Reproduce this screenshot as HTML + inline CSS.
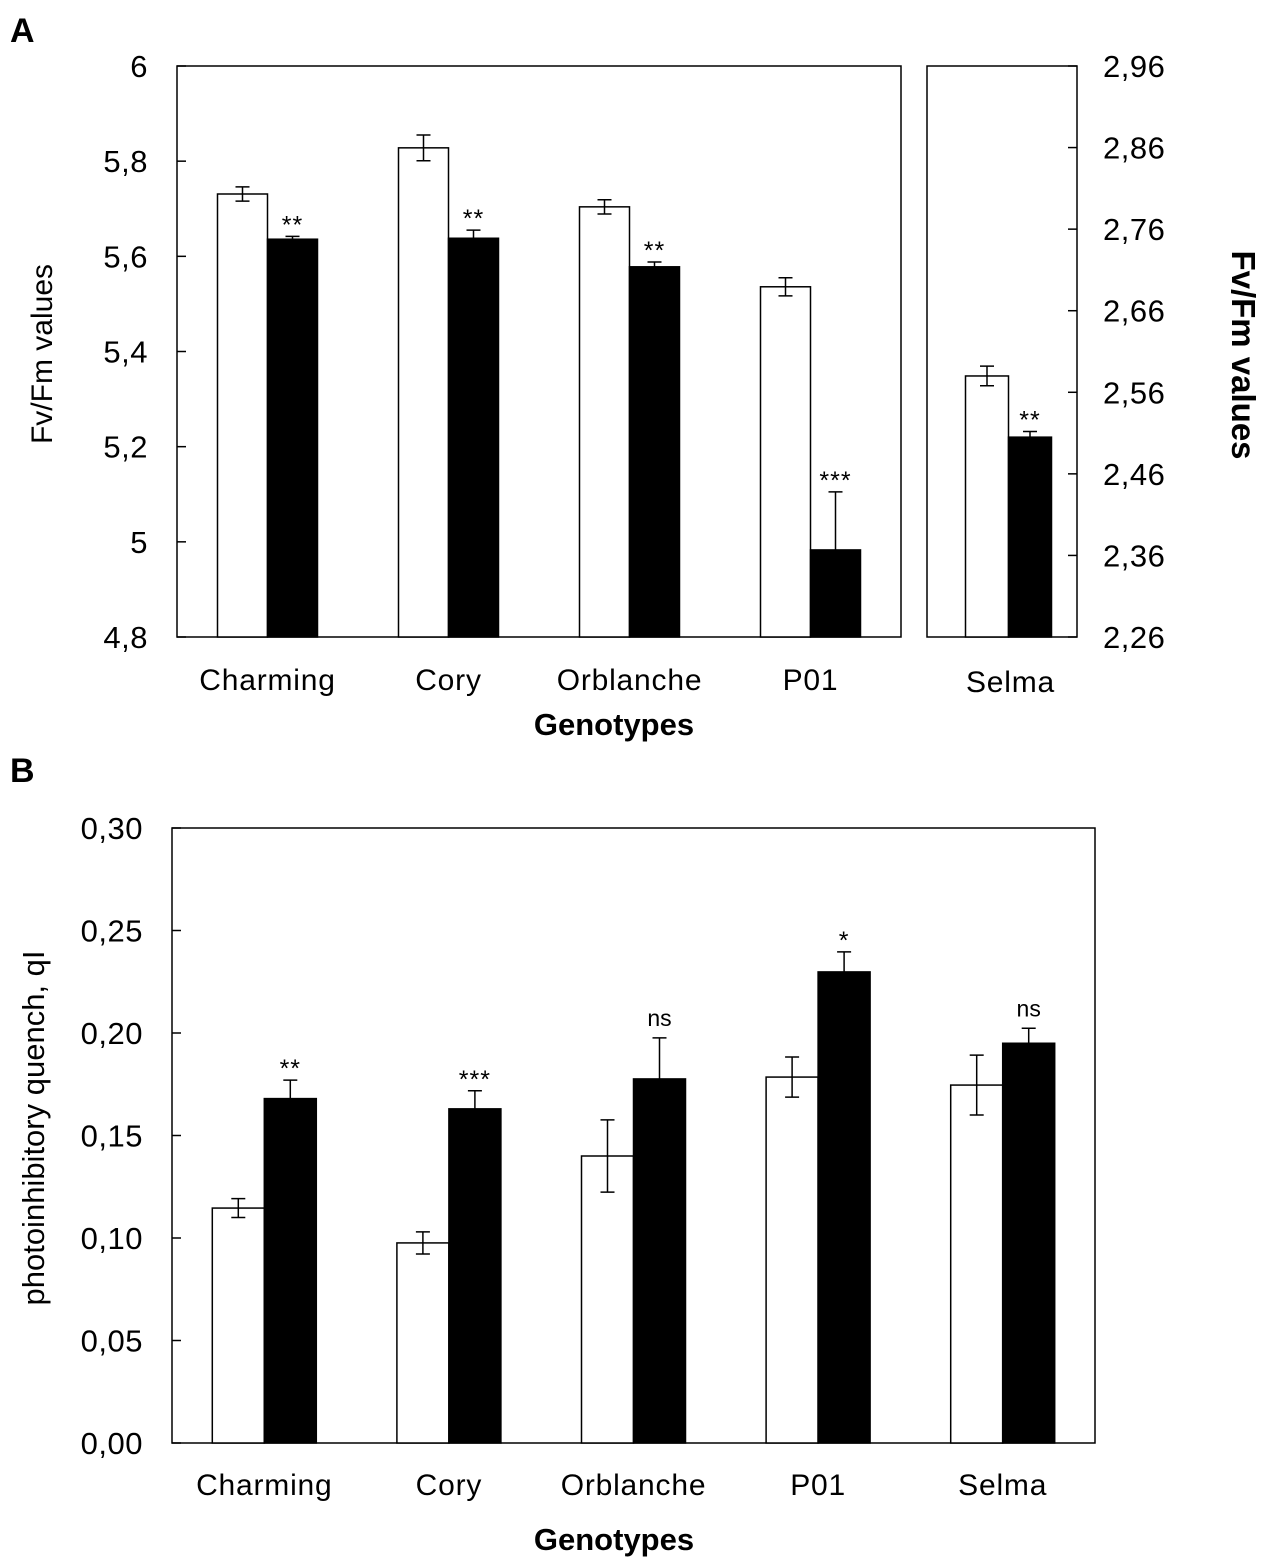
<!DOCTYPE html>
<html><head><meta charset="utf-8"><style>
body{margin:0;background:#fff}
svg text{font-family:"Liberation Sans",Arial,sans-serif}
</style></head><body>
<svg id="fig" width="1267" height="1561" xmlns="http://www.w3.org/2000/svg">
<text x="10" y="42" font-size="34" font-weight="bold">A</text>
<text x="10" y="782" font-size="34" font-weight="bold">B</text>
<g id="A"></g>
<g id="B"></g>
</svg>
<script>
// Panel A data
const catsA = ["Charming","Cory","Orblanche","P01"];
const ctrlA = [5.731,5.828,5.704,5.536];
const ctrlErrA = [0.015,0.027,0.015,0.019];
const trtA = [5.636,5.638,5.578,4.983];
const trtErrA = [0.006,0.017,0.010,0.122];
const sigA = ["**","**","**","***"];
const ticksA = ["4,8","5","5,2","5,4","5,6","5,8","6"];
const tickValsA = [4.8,5.0,5.2,5.4,5.6,5.8,6.0];
const catsA2 = ["Selma"];
const ctrlA2 = [2.58];
const ctrlErrA2 = [0.012];
const trtA2 = [2.505];
const trtErrA2 = [0.007];
const sigA2 = ["**"];
const ticksA2 = ["2,26","2,36","2,46","2,56","2,66","2,76","2,86","2,96"];
const tickValsA2 = [2.26,2.36,2.46,2.56,2.66,2.76,2.86,2.96];
// Panel B data
const catsB = ["Charming","Cory","Orblanche","P01","Selma"];
const ctrlB = [0.1146,0.0976,0.140,0.1785,0.1746];
const ctrlErrB = [0.0046,0.0054,0.0176,0.0098,0.0146];
const trtB = [0.168,0.163,0.1776,0.2298,0.195];
const trtErrB = [0.009,0.0088,0.020,0.0098,0.0073];
const sigB = ["**","***","ns","*","ns"];
const ticksB = ["0,00","0,05","0,10","0,15","0,20","0,25","0,30"];
const tickValsB = [0,0.05,0.10,0.15,0.20,0.25,0.30];

const NS="http://www.w3.org/2000/svg";
function mk(parent,tag,attrs,txt){const e=document.createElementNS(NS,tag);for(const k in attrs)e.setAttribute(k,attrs[k]);if(txt!==undefined)e.textContent=txt;parent.appendChild(e);return e;}
function scale(d0,d1,r0,r1){return v=>r0+(v-d0)/(d1-d0)*(r1-r0);}

function drawGroup(g,opt){
  const {cats,ctrl,ctrlErr,trt,trtErr,sig,x0,x1,y,bw,prefix,labelY,labelDx}=opt;
  const gw=(x1-x0)/cats.length;
  cats.forEach((c,i)=>{
    const cx=x0+gw*(i+0.5);
    const base=y.base;
    [[ctrl[i],ctrlErr[i],"#fff",cx-bw],[trt[i],trtErr[i],"#000",cx]].forEach(([v,e,f,bx],j)=>{
      const yt=y(v);
      const r=mk(g,"rect",{x:bx,y:yt,width:bw,height:base-yt,fill:f,stroke:"#000","stroke-width":1.5});
      
      
      const ex=bx+bw/2, ye1=y(v+e), ye2=y(v-e);
      const eb=mk(g,"path",{d:`M${ex},${ye1}V${j?yt:ye2}M${ex-7},${ye1}H${ex+7}`+(j?"":`M${ex-7},${ye2}H${ex+7}`),stroke:"#000","stroke-width":1.5,fill:"none"});
      
      
      if(j){
        const isNs=sig[i]==="ns";
        const st=mk(g,"text",{x:ex,y:ye1-(isNs?12:3),"font-size":isNs?23:25,"text-anchor":"middle","letter-spacing":isNs?0:1},sig[i]);
        
        
      }
    });
    const t=mk(g,"text",{x:cx+(labelDx||0),y:labelY,"font-size":30,"text-anchor":"middle","letter-spacing":0.8},c);
    
    
  });
}
function drawTicks(g,vals,labels,y,x,side,prefix){
  vals.forEach((v,i)=>{
    const yy=y(v);
    const tk=mk(g,"line",{x1:x,x2:side<0?x+9:x-9,y1:yy,y2:yy,stroke:"#000","stroke-width":1.5});
    
    
    const t=mk(g,"text",{x:side<0?x-29:x+26,y:yy+11,"font-size":31,"text-anchor":side<0?"end":"start","letter-spacing":0.5},labels[i]);
    
    
  });
}

// Panel A
const gA=document.getElementById("A");
const yA=scale(4.8,6,637,66); yA.base=637;
const yA2=scale(2.26,2.96,637,66); yA2.base=637;
let f=mk(gA,"rect",{x:177,y:66,width:724,height:571,fill:"none",stroke:"#000","stroke-width":1.5});


f=mk(gA,"rect",{x:927,y:66,width:150,height:571,fill:"none",stroke:"#000","stroke-width":1.5});


drawTicks(gA,tickValsA,ticksA,yA,177,-1,'panel-a-left-axis');
drawTicks(gA,tickValsA2,ticksA2,yA2,1077,1,'panel-a-right-axis');
drawGroup(gA,{cats:catsA,ctrl:ctrlA,ctrlErr:ctrlErrA,trt:trtA,trtErr:trtErrA,sig:sigA,x0:177,x1:901,y:yA,bw:50,prefix:'panel-a',labelY:690});
drawGroup(gA,{cats:catsA2,ctrl:ctrlA2,ctrlErr:ctrlErrA2,trt:trtA2,trtErr:trtErrA2,sig:sigA2,x0:927,x1:1090,y:yA2,bw:43,prefix:'panel-a-selma',labelY:692,labelDx:2});
let t=mk(gA,"text",{x:0,y:0,"font-size":30,"text-anchor":"middle",transform:"translate(52,354) rotate(-90)"},"Fv/Fm values");


t=mk(gA,"text",{x:0,y:0,"font-size":33,"font-weight":"bold","text-anchor":"middle",transform:"translate(1232,355) rotate(90)"},"Fv/Fm values");


t=mk(gA,"text",{x:614,y:735,"font-size":31,"font-weight":"bold","text-anchor":"middle"},"Genotypes");



// Panel B
const gB=document.getElementById("B");
const yB=scale(0,0.30,1443,828); yB.base=1443;
f=mk(gB,"rect",{x:172,y:828,width:923,height:615,fill:"none",stroke:"#000","stroke-width":1.5});


drawTicks(gB,tickValsB,ticksB,yB,172,-1,'panel-b-y-axis');
drawGroup(gB,{cats:catsB,ctrl:ctrlB,ctrlErr:ctrlErrB,trt:trtB,trtErr:trtErrB,sig:sigB,x0:172,x1:1095,y:yB,bw:52,prefix:'panel-b',labelY:1495});
t=mk(gB,"text",{x:0,y:0,"font-size":31,"text-anchor":"middle",transform:"translate(44,1128) rotate(-90)"},"photoinhibitory quench, qI");


t=mk(gB,"text",{x:614,y:1550,"font-size":31,"font-weight":"bold","text-anchor":"middle"},"Genotypes");


</script>
</body></html>
